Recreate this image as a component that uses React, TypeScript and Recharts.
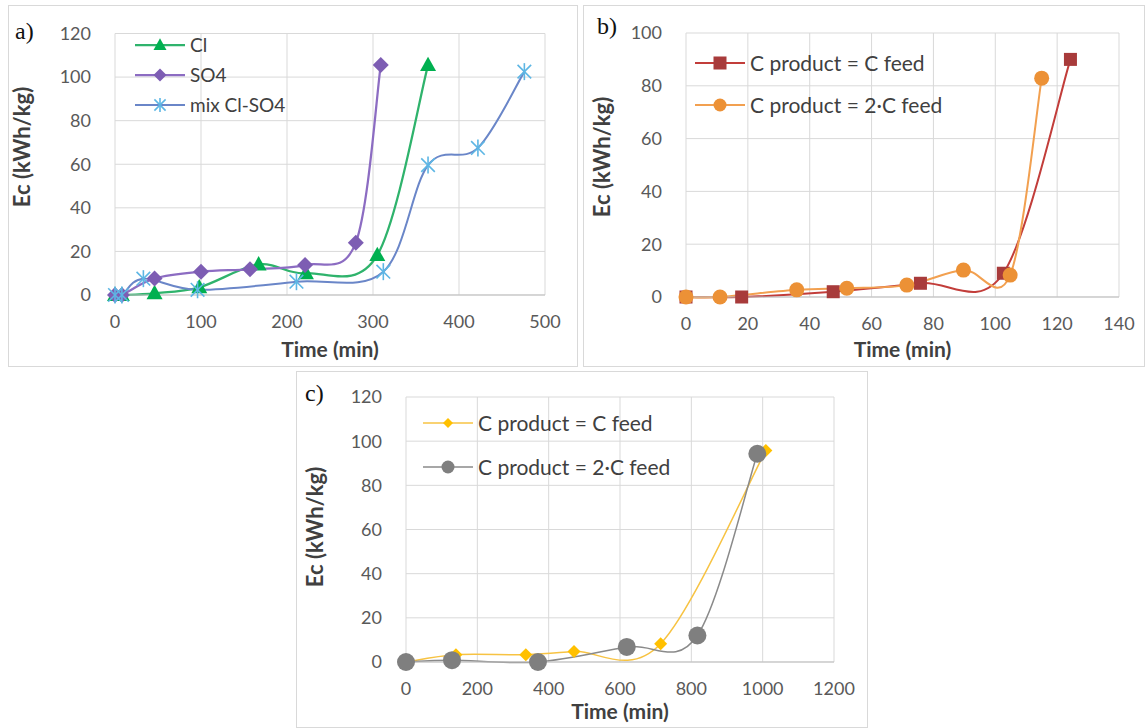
import React from 'react';
import { LineChart, Line, XAxis, YAxis, CartesianGrid, Legend } from 'recharts';

// a) Cl / SO4 / mix
const clTime = [0, 8, 46, 98, 167, 222, 305, 364];
const clEc = [0, 0, 0.8, 3.5, 14, 10, 18.3, 105.5];
const so4Time = [0, 8, 46, 100, 157, 221, 280, 309];
const so4Ec = [0, 0, 7.6, 10.7, 11.8, 13.8, 24, 105.5];
const mixTime = [0, 8, 33, 96, 211, 312, 364, 422, 476];
const mixEc = [0, 0, 7.5, 2.4, 6.1, 10.7, 59.6, 67.5, 102.5];
const xTicksA = [0, 100, 200, 300, 400, 500];
const yTicksA = [0, 20, 40, 60, 80, 100, 120];

// b) C product = C feed / 2·C feed
const eqTimeB = [0, 18, 47.6, 75.8, 102.6, 124.3];
const eqEcB = [0, 0, 2, 5.2, 9, 90];
const dblTimeB = [0, 11, 35.8, 52, 71.4, 89.7, 104.8, 115];
const dblEcB = [0, 0, 2.7, 3.3, 4.5, 10.2, 8.3, 82.9];
const xTicksB = [0, 20, 40, 60, 80, 100, 120, 140];
const yTicksB = [0, 20, 40, 60, 80, 100];

// c) same, longer runs
const eqTimeC = [0, 140, 336, 471, 714, 1009];
const eqEcC = [0, 3.3, 3.3, 4.8, 8.3, 95.8];
const dblTimeC = [0, 129, 370, 619, 817, 985];
const dblEcC = [0, 0.8, 0, 6.8, 12, 94.3];
const xTicksC = [0, 200, 400, 600, 800, 1000, 1200];
const yTicksC = [0, 20, 40, 60, 80, 100, 120];

const toPoints = (xs: number[], ys: number[]) => xs.map((t, i) => ({ time: t, ec: ys[i] }));

// excel-ish smoothed line (catmull-rom style bezier)
const excelSmooth = (context: any) => {
  let pts: number[][] = [];
  return {
    areaStart() {},
    areaEnd() {},
    lineStart() {
      pts = [];
    },
    point(x: number, y: number) {
      pts.push([+x, +y]);
    },
    lineEnd() {
      const n = pts.length;
      if (!n) return;
      context.moveTo(pts[0][0], pts[0][1]);
      for (let i = 0; i < n - 1; i++) {
        const p0 = pts[i > 0 ? i - 1 : i];
        const p1 = pts[i];
        const p2 = pts[i + 1];
        const p3 = pts[i + 2 < n ? i + 2 : i + 1];
        context.bezierCurveTo(
          p1[0] + (p2[0] - p0[0]) / 6,
          p1[1] + (p2[1] - p0[1]) / 6,
          p2[0] - (p3[0] - p1[0]) / 6,
          p2[1] - (p3[1] - p1[1]) / 6,
          p2[0],
          p2[1]
        );
      }
    },
  };
};

type Shape = 'triangle' | 'diamond' | 'star' | 'square' | 'circle';

type Series = {
  name: string;
  data: { time: number; ec: number }[];
  stroke: string;
  fill: string;
  shape: Shape;
  size: number;
  legendSize: number;
  width: number;
};

function Marker({ shape, cx, cy, size, fill }: { shape: Shape; cx: number; cy: number; size: number; fill: string }) {
  const s = size / 2;
  if (shape === 'triangle')
    return <polygon points={`${cx},${cy - s * 1.05} ${cx - s},${cy + s * 0.75} ${cx + s},${cy + s * 0.75}`} fill={fill} />;
  if (shape === 'diamond')
    return <polygon points={`${cx},${cy - s} ${cx + s},${cy} ${cx},${cy + s} ${cx - s},${cy}`} fill={fill} />;
  if (shape === 'square') return <rect x={cx - s} y={cy - s} width={size} height={size} fill={fill} />;
  if (shape === 'circle') return <circle cx={cx} cy={cy} r={s} fill={fill} />;
  const d = s * 0.8;
  return (
    <g stroke={fill} strokeWidth={1.6}>
      <line x1={cx} y1={cy - s} x2={cx} y2={cy + s} />
      <line x1={cx - d} y1={cy - d} x2={cx + d} y2={cy + d} />
      <line x1={cx - d} y1={cy + d} x2={cx + d} y2={cy - d} />
    </g>
  );
}

const seriesA: Series[] = [
  { name: 'Cl', data: toPoints(clTime, clEc), stroke: '#2FB36C', fill: '#00B050', shape: 'triangle', size: 16, legendSize: 13, width: 2.25 },
  { name: 'SO4', data: toPoints(so4Time, so4Ec), stroke: '#8C6CC2', fill: '#7D5DB3', shape: 'diamond', size: 16, legendSize: 13, width: 2.25 },
  { name: 'mix Cl-SO4', data: toPoints(mixTime, mixEc), stroke: '#6A86C8', fill: '#5DB6E4', shape: 'star', size: 17, legendSize: 14, width: 2 },
];

const seriesB: Series[] = [
  { name: 'C product = C feed', data: toPoints(eqTimeB, eqEcB), stroke: '#C23D3A', fill: '#A83B3B', shape: 'square', size: 13, legendSize: 13, width: 2 },
  { name: 'C product = 2·C feed', data: toPoints(dblTimeB, dblEcB), stroke: '#F2A050', fill: '#EC9136', shape: 'circle', size: 15, legendSize: 13, width: 2 },
];

const seriesC: Series[] = [
  { name: 'C product = C feed', data: toPoints(eqTimeC, eqEcC), stroke: '#F7C343', fill: '#FFC000', shape: 'diamond', size: 13, legendSize: 10, width: 1.5 },
  { name: 'C product = 2·C feed', data: toPoints(dblTimeC, dblEcC), stroke: '#8A8A8A', fill: '#7F7F7F', shape: 'circle', size: 18, legendSize: 13, width: 1.5 },
];

type PanelProps = {
  left: number;
  top: number;
  width: number;
  height: number;
  plotLeft: number;
  plotTop: number;
  plotRight: number;
  plotBottom: number;
  xDomain: [number, number];
  xTicks: number[];
  yDomain: [number, number];
  yTicks: number[];
  series: Series[];
  legendX: number;
  legendY: number;
  legendGap: number;
  legendFont: number;
  yTitleX: number;
  yTitleY: number;
  xTitleOffset: number;
};

const font = 'Lato, "Open Sans", sans-serif';

function Panel(p: PanelProps) {
  const legend = () => (
    <svg width={300} height={p.legendGap * p.series.length + 10} style={{ overflow: 'visible', display: 'block' }}>
      {p.series.map((s, i) => {
        const y = 12 + i * p.legendGap;
        return (
          <g key={s.name}>
            <line x1={0} y1={y} x2={50} y2={y} stroke={s.stroke} strokeWidth={s.width} />
            <Marker shape={s.shape} cx={25} cy={y} size={s.legendSize} fill={s.fill} />
            <text x={55} y={y} dy="0.36em" fontSize={p.legendFont} fill="#404040" fontFamily={font}>
              {s.name}
            </text>
          </g>
        );
      })}
    </svg>
  );

  const yTitle = () => (
    <text
      x={p.yTitleX}
      y={p.yTitleY}
      transform={`rotate(-90 ${p.yTitleX} ${p.yTitleY})`}
      textAnchor="middle"
      fontSize={22}
      fontWeight="bold"
      fill="#404040"
      fontFamily={font}
    >
      Ec (kWh/kg)
    </text>
  );

  return (
    <div
      style={{
        position: 'absolute',
        left: p.left,
        top: p.top,
        width: p.width,
        height: p.height,
        outline: '1px solid #D9D9D9',
        outlineOffset: -1,
        background: '#fff',
      }}
    >
      <LineChart
        width={p.width}
        height={p.height}
        margin={{ top: p.plotTop, right: p.width - p.plotRight, left: 0, bottom: 0 }}
        style={{ fontFamily: font }}
      >
        <CartesianGrid stroke="#D9D9D9" />
        <XAxis
          type="number"
          dataKey="time"
          domain={p.xDomain}
          ticks={p.xTicks}
          height={p.height - p.plotBottom}
          tickLine={false}
          tickSize={0}
          tickMargin={20}
          axisLine={{ stroke: '#BFBFBF' }}
          tick={{ fontSize: 18, fill: '#595959', fontFamily: font }}
          label={{
            value: 'Time (min)',
            position: 'insideBottom',
            offset: p.xTitleOffset,
            fontSize: 21,
            fontWeight: 'bold',
            fill: '#404040',
            fontFamily: font,
          }}
        />
        <YAxis
          type="number"
          domain={p.yDomain}
          ticks={p.yTicks}
          width={p.plotLeft}
          tickLine={false}
          tickSize={0}
          tickMargin={24}
          axisLine={false}
          tick={{ fontSize: 18, fill: '#595959', fontFamily: font }}
          label={yTitle}
        />
        <Legend
          layout="vertical"
          align="center"
          verticalAlign="middle"
          content={legend}
          wrapperStyle={{ left: p.legendX, top: p.legendY - 12, width: 300 }}
        />
        {p.series.map((s) => (
          <Line
            key={s.name}
            name={s.name}
            data={s.data}
            dataKey="ec"
            type={excelSmooth as any}
            stroke={s.stroke}
            strokeWidth={s.width}
            isAnimationActive={false}
            activeDot={false}
            dot={(d: any) => <Marker key={d.index} shape={s.shape} cx={d.cx} cy={d.cy} size={s.size} fill={s.fill} />}
          />
        ))}
      </LineChart>
    </div>
  );
}

const tagStyle: React.CSSProperties = {
  position: 'absolute',
  fontFamily: '"Liberation Serif", "Times New Roman", serif',
  fontSize: 24,
  lineHeight: '24px',
  color: '#111',
};

export default function App() {
  return (
    <div style={{ position: 'absolute', left: 0, top: 0, width: 1147, height: 728, background: '#fff', overflow: 'hidden' }}>
      <Panel
        left={8}
        top={5}
        width={570}
        height={362}
        plotLeft={107}
        plotTop={28.5}
        plotRight={537}
        plotBottom={290}
        xDomain={[0, 500]}
        xTicks={xTicksA}
        yDomain={[0, 120]}
        yTicks={yTicksA}
        series={seriesA}
        legendX={127}
        legendY={40}
        legendGap={30}
        legendFont={19}
        yTitleX={22}
        yTitleY={142}
        xTitleOffset={10}
      />
      <Panel
        left={583}
        top={5}
        width={562}
        height={362}
        plotLeft={103}
        plotTop={28}
        plotRight={536}
        plotBottom={292}
        xDomain={[0, 140]}
        xTicks={xTicksB}
        yDomain={[0, 100]}
        yTicks={yTicksB}
        series={seriesB}
        legendX={112}
        legendY={58}
        legendGap={42}
        legendFont={21}
        yTitleX={27}
        yTitleY={152}
        xTitleOffset={10}
      />
      <Panel
        left={296}
        top={371}
        width={572}
        height={357}
        plotLeft={110}
        plotTop={26}
        plotRight={538}
        plotBottom={291}
        xDomain={[0, 1200]}
        xTicks={xTicksC}
        yDomain={[0, 120]}
        yTicks={yTicksC}
        series={seriesC}
        legendX={127}
        legendY={52}
        legendGap={44}
        legendFont={21}
        yTitleX={27}
        yTitleY={156}
        xTitleOffset={9}
      />
      <div style={{ ...tagStyle, left: 15, top: 19 }}>a)</div>
      <div style={{ ...tagStyle, left: 597, top: 14 }}>b)</div>
      <div style={{ ...tagStyle, left: 305, top: 381 }}>c)</div>
    </div>
  );
}
